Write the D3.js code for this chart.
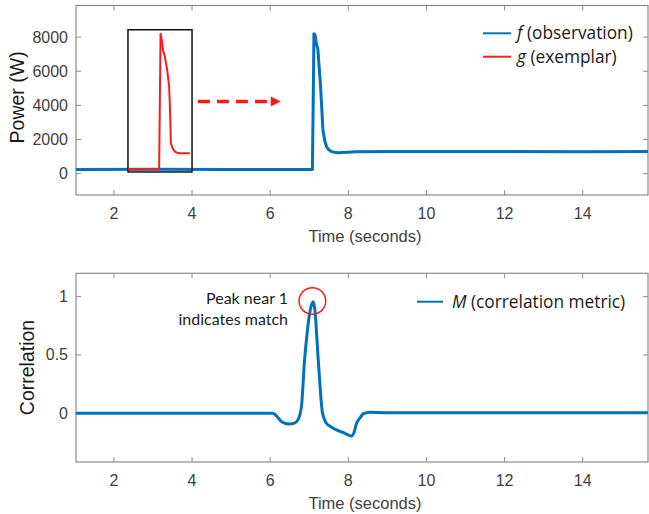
<!DOCTYPE html>
<html>
<head>
<meta charset="utf-8">
<script src="https://d3js.org/d3.v7.min.js"></script>
<style>
  body { margin: 0; background: #fff; }
  text { fill: #404040; }
</style>
</head>
<body>
<svg id="chart" width="649" height="514"></svg>
<script>
// observation f (top panel, blue)
const fTime  = [1.03, 3, 5, 7.08, 7.10, 7.12, 7.15, 7.18, 7.22, 7.29, 7.35, 7.40, 7.44, 7.50, 7.57, 7.65, 7.74, 7.85, 8.2, 9, 10, 12, 14, 15.67];
const fPower = [250, 255, 250, 250, 4000, 8200, 8100, 7650, 7300, 5100, 2560, 1900, 1590, 1400, 1290, 1250, 1230, 1240, 1280, 1300, 1300, 1300, 1290, 1300];

// exemplar g (red, inside the box)
const gTime  = [2.36, 3.158, 3.194, 3.22, 3.26, 3.30, 3.363, 3.414, 3.44, 3.458, 3.50, 3.56, 3.62, 3.688, 3.80, 3.944];
const gPower = [260, 260, 8200, 7900, 7200, 6900, 6080, 5100, 3500, 1780, 1500, 1290, 1230, 1196, 1190, 1196];

// correlation metric M (bottom panel)
const mTime = [1.03, 6.07, 6.18, 6.29, 6.4, 6.5, 6.62, 6.71, 6.8, 6.88, 6.95, 7.01, 7.06, 7.1, 7.14, 7.23, 7.34, 7.44, 7.55, 7.7, 7.9, 8.08, 8.15, 8.21, 8.3, 8.38, 8.55, 9, 10, 12, 14, 15.67];
const mVal  = [0, 0, -0.03, -0.072, -0.088, -0.092, -0.085, -0.057, 0.057, 0.457, 0.7, 0.857, 0.93, 0.957, 0.9, 0.457, 0, -0.086, -0.115, -0.143, -0.17, -0.195, -0.16, -0.086, -0.04, -0.006, 0.008, 0.005, 0.005, 0.005, 0.005, 0.005];

const xTicks = [2, 4, 6, 8, 10, 12, 14];
const powerTicks = [0, 2000, 4000, 6000, 8000];
const corrTicks = [0, 0.5, 1];

const exemplarBox = { t0: 2.36, t1: 4.0, p0: 100, p1: 8430 };
const shiftArrow = { t0: 4.15, t1: 6.27, p: 4223 };
const peakMark = { t: 7.08, v: 0.963 };

const blue = "#0072BD", red = "#ff1a1a", axisCol = "#8c8c8c";
const svg = d3.select("#chart");

const x = d3.scaleLinear().domain([1.03, 15.67]).range([76, 648]);
const yTop = d3.scaleLinear().domain([-1250, 9850]).range([195, 5.5]);
const yBot = d3.scaleLinear().domain([-0.418, 1.2]).range([462, 273.3]);

function frame(y, yTicks, fmt) {
  const [y0, y1] = y.range();
  const [x0, x1] = x.range();
  const g = svg.append("g");
  g.append("rect").attr("x", x0).attr("y", y1).attr("width", x1 - x0).attr("height", y0 - y1)
    .attr("fill", "none").attr("stroke", axisCol).attr("stroke-width", 1.2);
  xTicks.forEach(t => {
    g.append("line").attr("x1", x(t)).attr("x2", x(t)).attr("y1", y0).attr("y2", y0 - 5).attr("stroke", axisCol);
    g.append("line").attr("x1", x(t)).attr("x2", x(t)).attr("y1", y1).attr("y2", y1 + 5).attr("stroke", axisCol);
    g.append("text").attr("x", x(t)).attr("y", y0 + 24).attr("text-anchor", "middle")
      .style("font", "16px 'Liberation Sans', Arial, sans-serif").text(t);
  });
  yTicks.forEach(t => {
    g.append("line").attr("x1", x0).attr("x2", x0 + 5).attr("y1", y(t)).attr("y2", y(t)).attr("stroke", axisCol);
    g.append("line").attr("x1", x1).attr("x2", x1 - 5).attr("y1", y(t)).attr("y2", y(t)).attr("stroke", axisCol);
    g.append("text").attr("x", x0 - 8).attr("y", y(t) + 5.5).attr("text-anchor", "end")
      .style("font", "16px 'Liberation Sans', Arial, sans-serif").text(fmt(t));
  });
  g.append("text").attr("x", (x0 + x1) / 2 + 3).attr("y", y0 + 47).attr("text-anchor", "middle")
    .style("font", "16.5px 'Liberation Sans', Arial, sans-serif").text("Time (seconds)");
}

frame(yTop, powerTicks, d => d);
frame(yBot, corrTicks, d => d);

// y labels
svg.append("text").attr("transform", `translate(24,${(yTop(8000) + yTop(0)) / 2 - 8}) rotate(-90)`)
  .attr("text-anchor", "middle").style("font", "19.5px 'Liberation Sans', Arial, sans-serif")
  .style("fill", "#1a1a1a").text("Power (W)");
svg.append("text").attr("transform", `translate(34,367.5) rotate(-90)`)
  .attr("text-anchor", "middle").style("font", "19.5px 'Liberation Sans', Arial, sans-serif")
  .style("fill", "#1a1a1a").text("Correlation");

// top panel lines
const lineTop = d3.line().x(d => x(d[0])).y(d => yTop(d[1]));
svg.append("path").datum(d3.zip(fTime, fPower)).attr("d", lineTop)
  .attr("fill", "none").attr("stroke", blue).attr("stroke-width", 3).attr("stroke-linejoin", "round");

svg.append("rect")
  .attr("x", x(exemplarBox.t0)).attr("y", yTop(exemplarBox.p1))
  .attr("width", x(exemplarBox.t1) - x(exemplarBox.t0))
  .attr("height", yTop(exemplarBox.p0) - yTop(exemplarBox.p1))
  .attr("fill", "none").attr("stroke", "#111").attr("stroke-width", 1.5);

svg.append("path").datum(d3.zip(gTime, gPower)).attr("d", lineTop)
  .attr("fill", "none").attr("stroke", red).attr("stroke-width", 2).attr("stroke-linejoin", "round");

// dashed arrow
const ay = yTop(shiftArrow.p), ax0 = x(shiftArrow.t0), ax1 = x(shiftArrow.t1);
svg.append("line").attr("x1", ax0).attr("x2", ax1 - 10).attr("y1", ay).attr("y2", ay)
  .attr("stroke", red).attr("stroke-width", 3.5).attr("stroke-dasharray", "12,7");
svg.append("path").attr("d", `M${ax1},${ay} L${ax1 - 10},${ay - 5} L${ax1 - 10},${ay + 5} Z`).attr("fill", red);

// top legend
const legFont = "17.3px 'Open Sans', sans-serif";
[["f", " (observation)", blue, 33.3], ["g", " (exemplar)", red, 56.7]].forEach(([v, rest, c, ly]) => {
  svg.append("line").attr("x1", 483).attr("x2", 511).attr("y1", ly).attr("y2", ly).attr("stroke", c).attr("stroke-width", 2);
  const t = svg.append("text").attr("x", 517).attr("y", ly + 6).style("font", legFont).style("fill", "#1a1a1a");
  t.append("tspan").style("font-style", "italic").text(v);
  t.append("tspan").text(rest);
});

// bottom panel
const lineBot = d3.line().x(d => x(d[0])).y(d => yBot(d[1])).curve(d3.curveMonotoneX);
svg.append("path").datum(d3.zip(mTime, mVal)).attr("d", lineBot)
  .attr("fill", "none").attr("stroke", blue).attr("stroke-width", 3).attr("stroke-linejoin", "round");

svg.append("circle").attr("cx", x(peakMark.t)).attr("cy", yBot(peakMark.v)).attr("r", 13.3)
  .attr("fill", "none").attr("stroke", red).attr("stroke-width", 1.5);

const ann = svg.append("text").attr("text-anchor", "end").style("font", "16px Lato, sans-serif").style("fill", "#1a1a1a");
ann.append("tspan").attr("x", 288).attr("y", 303.5).text("Peak near 1");
ann.append("tspan").attr("x", 288).attr("y", 324.5).text("indicates match");

svg.append("line").attr("x1", 417).attr("x2", 443).attr("y1", 301.7).attr("y2", 301.7).attr("stroke", blue).attr("stroke-width", 2);
const lt = svg.append("text").attr("x", 452).attr("y", 307.7).style("font", legFont).style("fill", "#1a1a1a");
lt.append("tspan").style("font-style", "italic").text("M");
lt.append("tspan").text(" (correlation metric)");
</script>
</body>
</html>
